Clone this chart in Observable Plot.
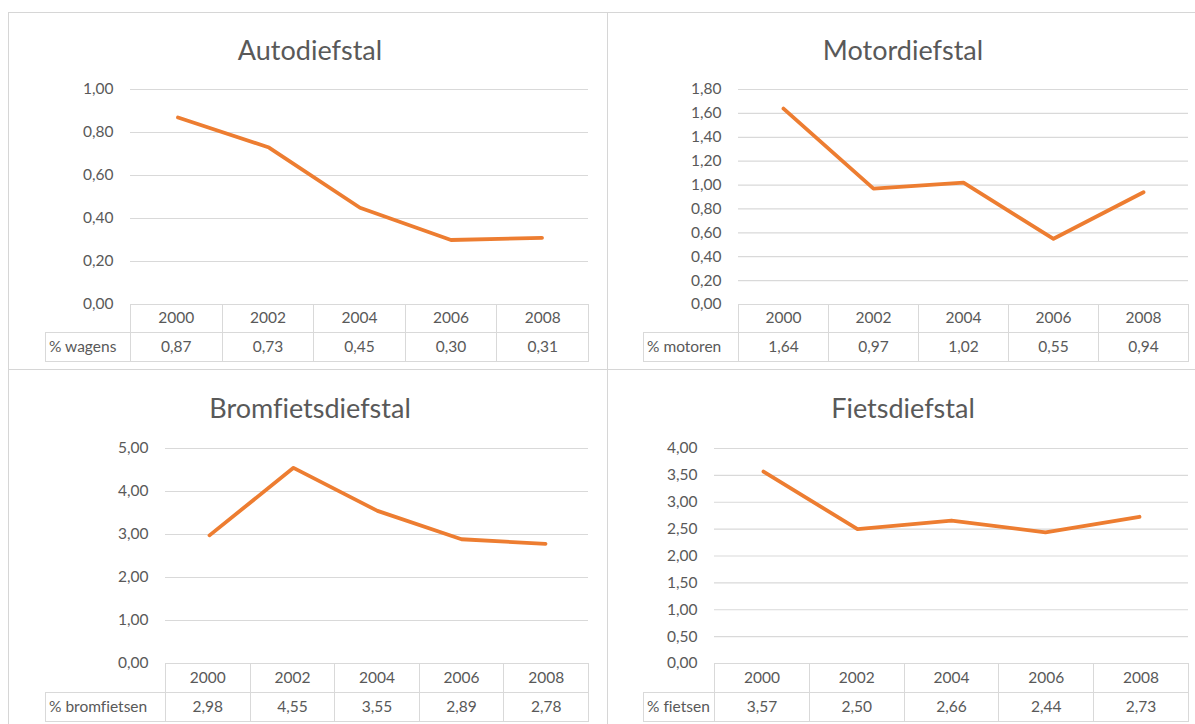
<!DOCTYPE html>
<html>
<head>
<meta charset="utf-8">
<script src="https://cdn.jsdelivr.net/npm/d3@7"></script>
<script src="https://cdn.jsdelivr.net/npm/@observablehq/plot@0.6"></script>
<style>
  html, body { margin: 0; padding: 0; background: #fff; }
  #root { position: relative; width: 1195px; height: 724px; overflow: hidden; font-family: Lato, "Open Sans", sans-serif; color: #595959; font-variant-ligatures: none; }
  .panel { position: absolute; border: 1.5px solid #d6d6d6; box-sizing: border-box; }
  .title { position: absolute; transform: translate(-50%, -50%); font-size: 27px; white-space: nowrap; color: #595959; font-variant-ligatures: none; }
  .chart { position: absolute; }
  table.dt { position: absolute; border-collapse: collapse; table-layout: fixed; font-size: 15.5px; color: #595959; font-variant-ligatures: none; }
  table.dt td { border: 1px solid #d9d9d9; text-align: center; padding: 0 0 3px 0; white-space: nowrap; overflow: hidden; }
  table.dt td.blank { border: none; border-right: 1px solid #d9d9d9; }
  table.dt td.lab { text-align: left; padding-left: 3px; }
</style>
</head>
<body>
<div id="root"></div>
<script>
// ---- data ----
const years = ["2000", "2002", "2004", "2006", "2008"];
const titles = ["Autodiefstal", "Motordiefstal", "Bromfietsdiefstal", "Fietsdiefstal"];
const rowLabels = ["% wagens", "% motoren", "% bromfietsen", "% fietsen"];
const autoValues = [0.87, 0.73, 0.45, 0.30, 0.31];
const motorValues = [1.64, 0.97, 1.02, 0.55, 0.94];
const bromValues = [2.98, 4.55, 3.55, 2.89, 2.78];
const fietsValues = [3.57, 2.50, 2.66, 2.44, 2.73];
const autoTicks = [0, 0.2, 0.4, 0.6, 0.8, 1.0];
const motorTicks = [0, 0.2, 0.4, 0.6, 0.8, 1.0, 1.2, 1.4, 1.6, 1.8];
const bromTicks = [0, 1, 2, 3, 4, 5];
const fietsTicks = [0, 0.5, 1.0, 1.5, 2.0, 2.5, 3.0, 3.5, 4.0];

const seriesValues = [autoValues, motorValues, bromValues, fietsValues];
const seriesTicks = [autoTicks, motorTicks, bromTicks, fietsTicks];

// ---- layout (pixels) ----
const layouts = [
  {px: 8,   py: 12,  pw: 600, ph: 358, titleX: 310, titleY: 49,  labL: 45,  plotL: 130, plotR: 588, yTop: 89,  yBot: 304, rowH: [28, 29]},
  {px: 607, py: 12,  pw: 600, ph: 358, titleX: 903, titleY: 49,  labL: 643, plotL: 738, plotR: 1188, yTop: 89, yBot: 304, rowH: [28, 29]},
  {px: 8,   py: 369, pw: 600, ph: 360, titleX: 310, titleY: 407, labL: 45,  plotL: 165, plotR: 588, yTop: 448, yBot: 663, rowH: [29, 29]},
  {px: 607, py: 369, pw: 600, ph: 360, titleX: 903, titleY: 407, labL: 643, plotL: 714, plotR: 1188, yTop: 448, yBot: 663, rowH: [29, 29]}
];

const fmt = d => d.toFixed(2).replace(".", ",");
const root = document.getElementById("root");

layouts.forEach((L, i) => {
  const panel = document.createElement("div");
  panel.className = "panel";
  Object.assign(panel.style, {left: L.px + "px", top: L.py + "px", width: L.pw + "px", height: L.ph + "px"});
  root.appendChild(panel);

  const title = document.createElement("div");
  title.className = "title";
  title.textContent = titles[i];
  Object.assign(title.style, {left: L.titleX + "px", top: L.titleY + "px"});
  root.appendChild(title);

  const data = years.map((y, j) => ({year: y, value: seriesValues[i][j]}));
  const ticks = seriesTicks[i];
  const mt = 12, mb = 12, mr = 4;
  const svgLeft = L.px + 4;
  const chart = Plot.plot({
    width: L.plotR - svgLeft + mr,
    height: (L.yBot - L.yTop) + mt + mb,
    marginLeft: L.plotL - svgLeft,
    marginRight: mr,
    marginTop: mt,
    marginBottom: mb,
    style: {fontFamily: "Lato, 'Open Sans', sans-serif", fontSize: "15.5px", color: "#595959", background: "transparent", overflow: "visible"},
    x: {type: "band", domain: years, padding: 0, axis: null},
    y: {domain: [0, d3.max(ticks)], axis: null},
    marks: [
      Plot.ruleY(ticks.slice(1), {stroke: "#d9d9d9", strokeWidth: 1.2, strokeOpacity: 1}),
      Plot.axisY({ticks, tickSize: 0, tickPadding: 17, tickFormat: fmt, fill: "#595959", fontSize: 15.5, label: null}),
      Plot.lineY(data, {x: "year", y: "value", stroke: "#ED7D31", strokeWidth: 3.8, strokeLinejoin: "round", strokeLinecap: "round"})
    ]
  });
  chart.classList.add("chart");
  Object.assign(chart.style, {left: svgLeft + "px", top: (L.yTop - mt) + "px"});
  root.appendChild(chart);

  // data table under the chart
  const table = document.createElement("table");
  table.className = "dt";
  const colW = (L.plotR - L.plotL) / years.length;
  const labW = L.plotL - L.labL;
  Object.assign(table.style, {left: L.labL + "px", top: L.yBot + "px", width: (L.plotR - L.labL + 1) + "px"});
  const cg = document.createElement("colgroup");
  [labW, ...years.map(() => colW)].forEach(w => {
    const c = document.createElement("col"); c.style.width = w + "px"; cg.appendChild(c);
  });
  table.appendChild(cg);
  const r1 = table.insertRow();
  r1.style.height = L.rowH[0] + "px";
  const blank = r1.insertCell(); blank.className = "blank";
  years.forEach(y => { const c = r1.insertCell(); c.textContent = y; });
  const r2 = table.insertRow();
  r2.style.height = L.rowH[1] + "px";
  const lab = r2.insertCell(); lab.className = "lab"; lab.textContent = rowLabels[i];
  seriesValues[i].forEach(v => { const c = r2.insertCell(); c.textContent = fmt(v); });
  root.appendChild(table);
});
</script>
</body>
</html>
